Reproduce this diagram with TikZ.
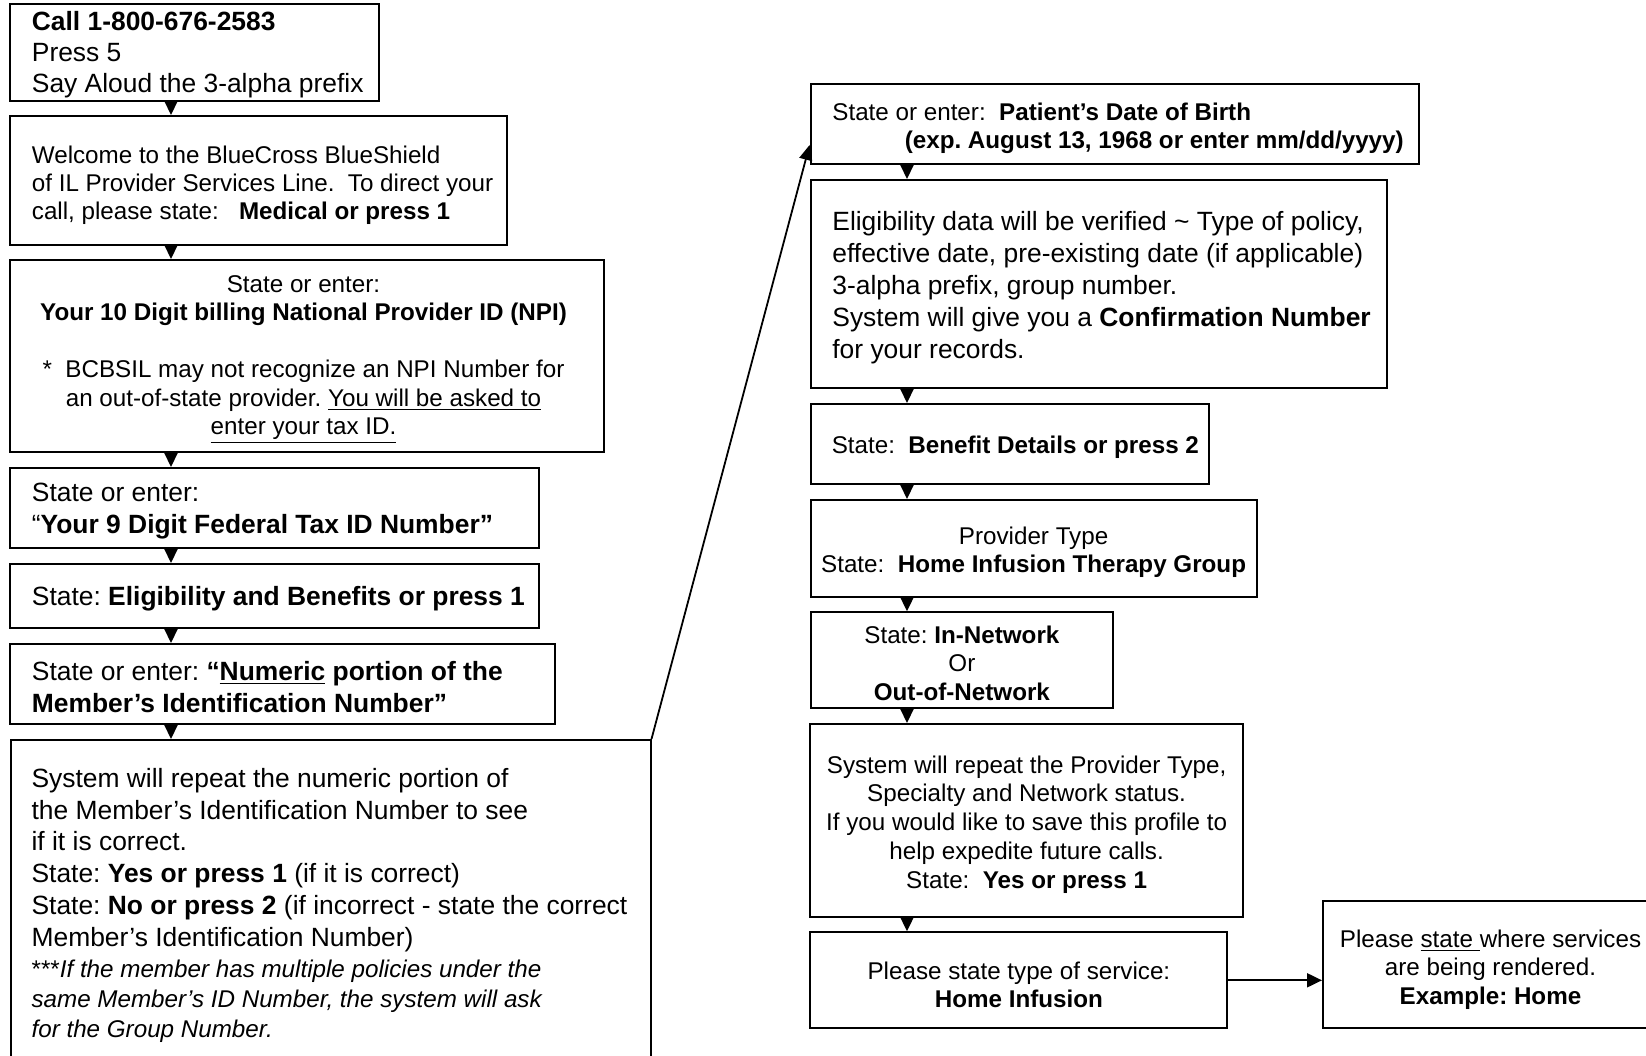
\documentclass[tikz,border=0pt]{standalone}
\usepackage{fontspec}
\setmainfont{Liberation Sans}
\usetikzlibrary{arrows.meta,fit}
\frenchspacing
\begin{document}
\begin{tikzpicture}[x=0.5pt,y=-0.5pt,
  box/.style={draw, line width=1pt, inner sep=0pt, rectangle},
  txt/.style={inner sep=0pt, text=black, yshift=-1.3pt},
  fA/.style={font=\fontsize{13.2pt}{15.85pt}\selectfont},
  fB/.style={font=\fontsize{12.1pt}{14.15pt}\selectfont},
  arr/.style={line width=1pt, -{Triangle[length=7.5pt,width=7pt]}},
  conn/.style={line width=0.9pt, -{Triangle[length=7.5pt,width=6.5pt]}}]
\useasboundingbox (0,0) rectangle (1646,1056);
\clip (0,0) rectangle (1646,1056);
\fill[white] (0,0) rectangle (1646,1056);

% left column boxes
\node[box, fit={(10,4) (379,101)}] (b1) {};
\node[box, fit={(10,116) (507,245)}] (b2) {};
\node[box, fit={(10,260) (604,452)}] (b3) {};
\node[box, fit={(10,468) (539,548)}] (b4) {};
\node[box, fit={(10,564) (539,628)}] (b5) {};
\node[box, fit={(10,644) (555,724)}] (b6) {};
\node[box, fit={(11,740) (650.5,1100)}] (b7) {};

% right column boxes
\node[box, fit={(810.6,84) (1418.5,164.3)}] (r1) {};
\node[box, fit={(810.6,180) (1386.7,388)}] (r2) {};
\node[box, fit={(810.5,404) (1208.8,484)}] (r3) {};
\node[box, fit={(810.5,500) (1256.6,596.7)}] (r4) {};
\node[box, fit={(810.5,612.3) (1113.3,708.3)}] (r5) {};
\node[box, fit={(810.4,724) (1242.8,916.7)}] (r6) {};
\node[box, fit={(810.4,932.3) (1227.4,1028.3)}] (r7) {};
\node[box, fit={(1323,900.7) (1680,1028.3)}] (r8) {};

% texts left
\node[txt, font=\fontsize{13.2pt}{15.4pt}\selectfont, align=left, anchor=west] (t1) at (31.5,52)
  {\textbf{Call 1-800-676-2583}\\Press 5\\Say Aloud the 3-alpha prefix};
\node[txt, font=\fontsize{12.1pt}{13.9pt}\selectfont, align=left, anchor=west] (t2) at (31.5,182.5)
  {Welcome to the BlueCross BlueShield\\of IL Provider Services Line.\ \ To direct your\\call, please state:\ \ \ \textbf{Medical or press 1}};
\node[txt, font=\fontsize{12.1pt}{14.25pt}\selectfont, align=center] (t3) at (303.5,357)
  {State or enter:\\\textbf{Your 10 Digit billing National Provider ID (NPI)}\\[14.25pt]*\ \ BCBSIL may not recognize an NPI Number for\\an out-of-state provider. \underline{You will be asked to}\\\underline{enter your tax ID.}};
\node[txt, font=\fontsize{13.2pt}{16.15pt}\selectfont, align=left, anchor=west] (t4) at (31.5,508.8)
  {State or enter:\\“\textbf{Your 9 Digit Federal Tax ID Number”}};
\node[txt, fA, align=left, anchor=west] (t5) at (31.5,596.5)
  {State: \textbf{Eligibility and Benefits or press 1}};
\node[txt, font=\fontsize{13.2pt}{16.2pt}\selectfont, align=left, anchor=west] (t6) at (31.5,684.5)
  {State or enter: \textbf{“\underline{Numeric} portion of the}\\\textbf{Member’s Identification Number”}};
\node[txt, font=\fontsize{13.2pt}{15.95pt}\selectfont, align=left, anchor=west] (t7a) at (31.2,857.5)
  {System will repeat the numeric portion of\\the Member’s Identification Number to see\\if it is correct.\\State: \textbf{Yes or press 1} (if it is correct)\\State: \textbf{No or press 2} (if incorrect - state the correct\\Member’s Identification Number)};
\node[txt, font=\fontsize{12.1pt}{15pt}\selectfont, align=left, anchor=west] (t7b) at (31.2,999)
  {***\textit{If the member has multiple policies under the}\\\textit{same Member’s ID Number, the system will ask}\\\textit{for the Group Number.}};

% texts right
\node[txt, fB, align=left, anchor=west] (u1) at (832,126)
  {State or enter:\ \ \textbf{Patient’s Date of Birth}\\\hspace*{36.2pt}\textbf{(exp. August 13, 1968 or enter mm/dd/yyyy)}};
\node[txt, font=\fontsize{13.2pt}{15.9pt}\selectfont, align=left, anchor=west] (u2) at (832,285)
  {Eligibility data will be verified \textasciitilde{} Type of policy,\\effective date, pre-existing date (if applicable)\\3-alpha prefix, group number.\\System will give you a \textbf{Confirmation Number}\\for your records.};
\node[txt, fB, align=left, anchor=west] (u3) at (831.4,445)
  {State:\ \ \textbf{Benefit Details or press 2}};
\node[txt, fB, align=center] (u4) at (1033.6,549.9)
  {Provider Type\\State:\ \ \textbf{Home Infusion Therapy Group}};
\node[txt, fB, align=center] (u5) at (961.9,660.7)
  {State: \textbf{In-Network}\\Or\\\textbf{Out-of-Network}};
\node[txt, font=\fontsize{12.1pt}{14.45pt}\selectfont, align=center] (u6) at (1026.6,822)
  {System will repeat the Provider Type,\\Specialty and Network status.\\If you would like to save this profile to\\help expedite future calls.\\State:\ \ \textbf{Yes or press 1}};
\node[txt, fB, align=center] (u7) at (1018.9,982)
  {Please state type of service:\\\textbf{Home Infusion}};
\node[txt, fB, align=center] (u8) at (1490.5,967)
  {Please \underline{state\ }where services\\are being rendered.\\\textbf{Example: Home}};

% connectors
\coordinate (axL) at (171,0);
\coordinate (axR) at (907,0);
\coordinate (tipy) at (0,145);
\draw[arr] (b1.south -| axL) -- (b2.north -| axL);
\draw[arr] (b2.south -| axL) -- (b3.north -| axL);
\draw[arr] (b3.south -| axL) -- (b4.north -| axL);
\draw[arr] (b4.south -| axL) -- (b5.north -| axL);
\draw[arr] (b5.south -| axL) -- (b6.north -| axL);
\draw[arr] (b6.south -| axL) -- (b7.north -| axL);
\draw[conn] (b7.north east) -- (r1.west |- tipy);
\draw[arr] (r1.south -| axR) -- (r2.north -| axR);
\draw[arr] (r2.south -| axR) -- (r3.north -| axR);
\draw[arr] (r3.south -| axR) -- (r4.north -| axR);
\draw[arr] (r4.south -| axR) -- (r5.north -| axR);
\draw[arr] (r5.south -| axR) -- (r6.north -| axR);
\draw[arr] (r6.south -| axR) -- (r7.north -| axR);
\draw[arr] (r7.east) -- (r8.west |- r7.east);
\end{tikzpicture}
\end{document}
